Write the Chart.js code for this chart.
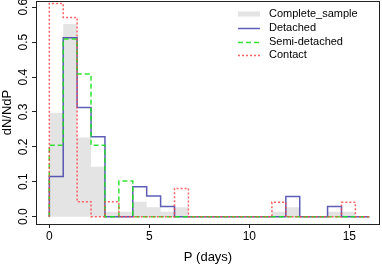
<!DOCTYPE html>
<html>
<head>
<meta charset="utf-8">
<script src="https://cdn.jsdelivr.net/npm/chart.js@4/dist/chart.umd.min.js"></script>
<style>
  html, body { margin: 0; padding: 0; background: #fff; }
  #wrap { width: 382px; height: 265px; }
</style>
</head>
<body>
<div id="wrap"><canvas id="hist" width="382" height="265"></canvas></div>
<script>
  // Histogram bins: 23 bins over 0..16 days
  const binCount = 23;
  const binMax = 16;

  // Normalised counts per bin (dN/NdP)
  const completeSample = [0.298, 0.552, 0.227, 0.143, 0.014, 0.014, 0.043, 0.027, 0.014, 0.027, 0, 0, 0, 0, 0, 0, 0.014, 0.027, 0, 0, 0.014, 0.014, 0];
  const detached       = [0.115, 0.513, 0.313, 0.229, 0, 0, 0.086, 0.059, 0.029, 0, 0, 0, 0, 0, 0, 0, 0, 0.058, 0, 0, 0.029, 0, 0];
  const semiDetached   = [0.205, 0.509, 0.409, 0.205, 0, 0.102, 0, 0, 0, 0, 0, 0, 0, 0, 0, 0, 0, 0, 0, 0, 0, 0, 0];
  const contact        = [0.611, 0.571, 0.043, 0, 0.043, 0, 0, 0, 0, 0.081, 0, 0, 0, 0, 0, 0, 0.041, 0, 0, 0, 0, 0.041, 0];

  const xTicks = [0, 5, 10, 15];
  const yTicks = [0, 0.1, 0.2, 0.3, 0.4, 0.5, 0.6];

  const FONT = "'Liberation Sans', Arial, sans-serif";

  // Turn bin heights into step points (left edge of each bin, closing at the last edge)
  function steps(values) {
    const w = binMax / binCount;
    const pts = [{ x: 0, y: 0 }];
    values.forEach((v, i) => pts.push({ x: i * w, y: v }));
    pts.push({ x: values.length * w, y: 0 });
    return pts;
  }

  const series = [
    { label: 'Complete_sample', data: steps(completeSample), kind: 'fill', color: '#e4e4e4', order: 4 },
    { label: 'Detached', data: steps(detached), kind: 'line', color: 'rgba(40,40,160,0.75)', dash: [], order: 3 },
    { label: 'Semi-detached', data: steps(semiDetached), kind: 'line', color: 'rgba(30,225,30,0.9)', dash: [5, 3], order: 2 },
    { label: 'Contact', data: steps(contact), kind: 'line', color: 'rgba(255,70,70,0.85)', dash: [2, 2], order: 1 }
  ];

  // Box, rotated y labels and legend, R style
  const extras = {
    id: 'extras',
    afterDraw(chart) {
      const ctx = chart.ctx;
      const a = chart.chartArea;
      const ys = chart.scales.y;

      ctx.save();
      ctx.strokeStyle = '#222';
      ctx.lineWidth = 1;
      ctx.strokeRect(Math.round(a.left) + 0.5, Math.round(a.top) + 0.5,
        Math.round(a.right - a.left) - 1, Math.round(a.bottom - a.top));

      ctx.fillStyle = '#000';
      ctx.font = '12px ' + FONT;
      ctx.textAlign = 'center';
      ctx.textBaseline = 'middle';
      ys.ticks.forEach((t) => {
        const y = ys.getPixelForValue(t.value);
        ctx.save();
        ctx.translate(24, y);
        ctx.rotate(-Math.PI / 2);
        ctx.fillText(t.value.toFixed(1), 0, 0);
        ctx.restore();
      });

      // Legend
      ctx.font = '11px ' + FONT;
      ctx.textAlign = 'left';
      const lx = 238, lw = 22, tx = 269;
      const rows = [14, 27.5, 41.5, 55];
      chart.data.datasets.forEach((ds, i) => {
        const y = rows[i];
        if (ds.fill) {
          ctx.fillStyle = ds.backgroundColor;
          ctx.fillRect(lx, y - 2.5, lw, 5);
        } else {
          ctx.strokeStyle = ds.borderColor;
          ctx.lineWidth = ds.borderWidth;
          ctx.setLineDash(ds.borderDash);
          ctx.beginPath();
          ctx.moveTo(lx, Math.round(y) + 0.5);
          ctx.lineTo(lx + lw, Math.round(y) + 0.5);
          ctx.stroke();
          ctx.setLineDash([]);
        }
        ctx.fillStyle = '#000';
        ctx.fillText(ds.label, tx, y);
      });
      ctx.restore();
    }
  };

  new Chart(document.getElementById('hist'), {
    type: 'line',
    data: {
      datasets: series.map((s) => ({
        label: s.label,
        data: s.data,
        stepped: 'before',
        order: s.order,
        pointRadius: 0,
        tension: 0,
        fill: s.kind === 'fill' ? 'origin' : false,
        backgroundColor: s.kind === 'fill' ? s.color : 'transparent',
        borderColor: s.kind === 'fill' ? 'transparent' : s.color,
        borderWidth: s.kind === 'fill' ? 0 : 1.5,
        borderDash: s.dash || []
      }))
    },
    options: {
      responsive: false,
      animation: false,
      events: [],
      layout: { padding: { top: 1, right: 2, left: 0, bottom: 0 } },
      plugins: {
        legend: { display: false },
        tooltip: { enabled: false }
      },
      scales: {
        x: {
          type: 'linear',
          min: -0.665,
          max: 16.535,
          afterBuildTicks: (scale) => { scale.ticks = xTicks.map((v) => ({ value: v })); },
          afterFit: (scale) => { scale.height = 41; },
          border: { display: false },
          grid: { drawOnChartArea: false, drawTicks: true, tickLength: 4, color: '#222' },
          ticks: { color: '#000', padding: 1, maxRotation: 0, font: { family: FONT, size: 12 } },
          title: {
            display: true,
            text: 'P (days)',
            color: '#000',
            padding: { top: 0, bottom: 0 },
            font: { family: FONT, size: 13 }
          }
        },
        y: {
          min: -0.021,
          max: 0.618,
          afterBuildTicks: (scale) => { scale.ticks = yTicks.map((v) => ({ value: v })); },
          afterFit: (scale) => { scale.width = 36; },
          border: { display: false },
          grid: { drawOnChartArea: false, drawTicks: true, tickLength: 4, color: '#222' },
          ticks: { display: false },
          title: {
            display: true,
            text: 'dN/NdP',
            color: '#000',
            padding: { top: 0, bottom: 0 },
            font: { family: FONT, size: 13 }
          }
        }
      }
    },
    plugins: [extras]
  });
</script>
</body>
</html>
